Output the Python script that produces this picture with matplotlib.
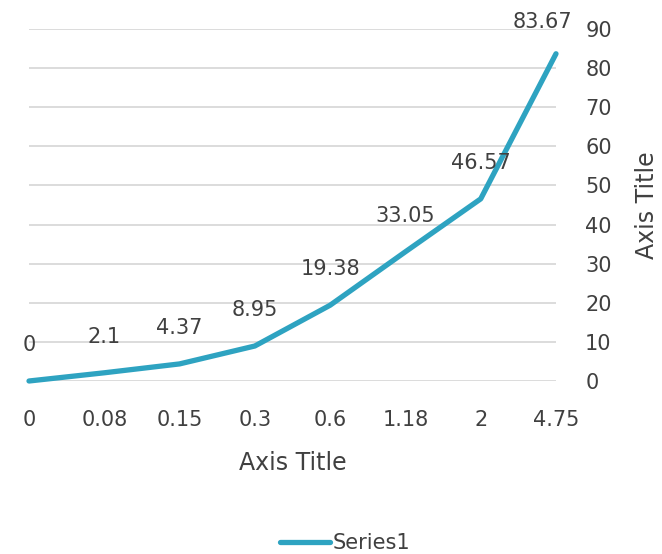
import matplotlib.pyplot as plt
import numpy as np

# data
categories = ['0', '0.08', '0.15', '0.3', '0.6', '1.18', '2', '4.75']
series1 = [0, 2.1, 4.37, 8.95, 19.38, 33.05, 46.57, 83.67]
y_ticks = [0, 10, 20, 30, 40, 50, 60, 70, 80, 90]

line_color = '#2EA3C1'
text_color = '#404040'
grid_color = '#D9D9D9'

plt.rcParams['font.family'] = ['DejaVu Sans']

fig = plt.figure(figsize=(6.62, 5.54), dpi=100)
ax = fig.add_axes([29 / 662, 1 - 381 / 554, (556 - 29) / 662, (381 - 29) / 554])

x = np.arange(len(categories))
ax.plot(x, series1, color=line_color, lw=3.8, solid_capstyle='round',
        solid_joinstyle='round', label='Series1', clip_on=False)

# data labels above each point
for xi, yi in zip(x, series1):
    lbl = '{:g}'.format(yi)
    dx, dy = (-10, 23) if xi == x[-1] else (0, 26)
    ax.annotate(lbl, (xi, yi), xytext=(dx, dy), textcoords='offset points',
                ha='center', va='center', fontsize=15, color=text_color)

ax.set_xlim(0, len(categories) - 1)
ax.set_ylim(0, 90)
ax.set_xticks(x)
ax.set_xticklabels(categories)
ax.set_yticks(y_ticks)

ax.yaxis.tick_right()
ax.yaxis.set_label_position('right')
ax.tick_params(axis='both', length=0, labelsize=15, labelcolor=text_color)
ax.tick_params(axis='y', pad=21)
ax.tick_params(axis='x', pad=21)
for lab in ax.get_yticklabels():
    lab.set_horizontalalignment('left')

ax.grid(axis='y', color=grid_color, lw=1.3)
ax.set_axisbelow(True)
for s in ax.spines.values():
    s.set_visible(False)

ax.set_xlabel('Axis Title', fontsize=17, color=text_color, labelpad=15)
ax.set_ylabel('Axis Title', fontsize=17, color=text_color, labelpad=17)

fig.legend(loc='center', bbox_to_anchor=(345 / 662, 1 - 543 / 554),
           frameon=False, fontsize=15, labelcolor=text_color,
           handlelength=2.4, handletextpad=0.1)

fig.savefig('out.png', dpi=100)
